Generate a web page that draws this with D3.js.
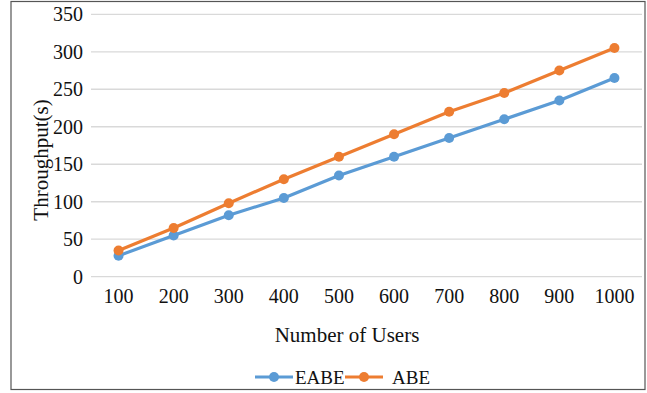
<!DOCTYPE html>
<html>
<head>
<meta charset="utf-8">
<script src="https://cdn.jsdelivr.net/npm/d3@7"></script>
<style>
  html, body { margin: 0; padding: 0; background: #fff; }
  svg { display: block; }
  svg text { font-family: "Liberation Serif", "Times New Roman", serif; }
</style>
</head>
<body>
<svg id="chart" width="647" height="393"></svg>
<script>
const users = ["100", "200", "300", "400", "500", "600", "700", "800", "900", "1000"];
const eabe = [28, 55, 82, 105, 135, 160, 185, 210, 235, 265];
const abe = [35, 65, 98, 130, 160, 190, 220, 245, 275, 305];
const yTicks = [0, 50, 100, 150, 200, 250, 300, 350];
const seriesNames = ["EABE", "ABE"];
const seriesColors = ["#5B9BD5", "#ED7D31"];

const svg = d3.select("#chart");
const plot = { left: 91, right: 642, top: 14.3, bottom: 276.7 };
const serif = "Liberation Serif, Times New Roman, serif";

// outer frame
svg.append("rect")
  .attr("x", 11).attr("y", 1.5)
  .attr("width", 634).attr("height", 388)
  .attr("fill", "#fff").attr("stroke", "#555").attr("stroke-width", 1.2);

const x = d3.scaleBand().domain(users).range([plot.left, plot.right]);
const y = d3.scaleLinear().domain([0, 350]).range([plot.bottom, plot.top]);

// horizontal gridlines
svg.append("g").selectAll("line").data(yTicks).join("line")
  .attr("x1", plot.left).attr("x2", plot.right)
  .attr("y1", d => y(d)).attr("y2", d => y(d))
  .attr("stroke", "#d9d9d9").attr("stroke-width", 1.3);

// y axis labels
const yAxis = d3.axisLeft(y).tickValues(yTicks).tickSize(0).tickPadding(8);
svg.append("g").attr("transform", `translate(${plot.left},0)`).call(yAxis)
  .attr("font-family", serif).attr("font-size", 20)
  .call(g => g.select(".domain").remove())
  .call(g => g.selectAll("text").attr("fill", "#111"));

// x axis labels
const xAxis = d3.axisBottom(x).tickSize(0).tickPadding(12);
svg.append("g").attr("transform", `translate(0,${plot.bottom})`).call(xAxis)
  .attr("font-family", serif).attr("font-size", 20)
  .call(g => g.select(".domain").remove())
  .call(g => g.selectAll("text").attr("fill", "#111"));

// axis titles
svg.append("text").attr("x", 347).attr("y", 342)
  .attr("text-anchor", "middle").attr("font-size", 21).attr("fill", "#111")
  .text("Number of Users");
svg.append("text")
  .attr("transform", "translate(48,160) rotate(-90)")
  .attr("text-anchor", "middle").attr("font-size", 21).attr("fill", "#111")
  .text("Throughput(s)");

// series lines and markers
const data = [eabe, abe];
const line = d3.line().x((d, i) => x(users[i]) + x.bandwidth() / 2).y(d => y(d));
data.forEach((vals, s) => {
  svg.append("path").datum(vals)
    .attr("d", line).attr("fill", "none")
    .attr("stroke", seriesColors[s]).attr("stroke-width", 3.2)
    .attr("stroke-linejoin", "round");
  svg.append("g").selectAll("circle").data(vals).join("circle")
    .attr("cx", (d, i) => x(users[i]) + x.bandwidth() / 2)
    .attr("cy", d => y(d))
    .attr("r", 5).attr("fill", seriesColors[s]);
});

// legend
const legendItems = [
  { x0: 255, x1: 293, tx: 295 },
  { x0: 345, x1: 383, tx: 392 }
];
legendItems.forEach((L, s) => {
  const g = svg.append("g");
  g.append("line").attr("x1", L.x0).attr("x2", L.x1)
    .attr("y1", 377).attr("y2", 377)
    .attr("stroke", seriesColors[s]).attr("stroke-width", 3.2);
  g.append("circle").attr("cx", (L.x0 + L.x1) / 2).attr("cy", 377)
    .attr("r", 5).attr("fill", seriesColors[s]);
  g.append("text").attr("x", L.tx).attr("y", 383.5)
    .attr("font-size", 19).attr("fill", "#111").text(seriesNames[s]);
});
</script>
</body>
</html>
